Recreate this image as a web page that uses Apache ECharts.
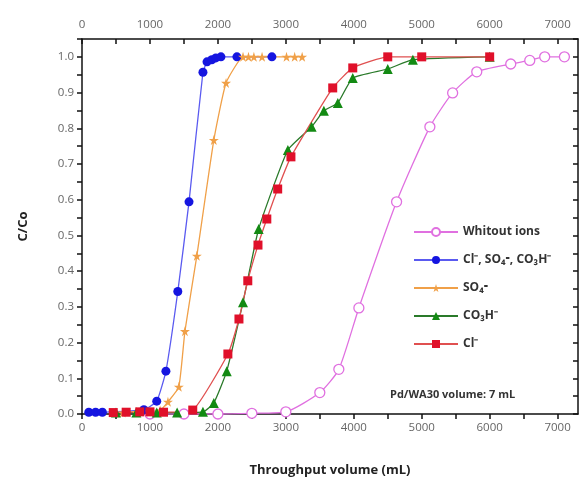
<!DOCTYPE html>
<html>
<head>
<meta charset="utf-8">
<script src="https://cdn.jsdelivr.net/npm/echarts@6/dist/echarts.min.js"></script>
<style>html,body{margin:0;padding:0;background:#fff}#c{width:580px;height:484px}</style>
</head>
<body>
<div id="c"></div>
<script>
// Data: [volume (mL), C/Co]
const withoutIons = [[1000,0],[1500,0],[2000,0],[2500,0.002],[3000,0.006],[3500,0.06],[3780,0.125],[4075,0.297],[4630,0.594],[5120,0.804],[5455,0.899],[5810,0.958],[6310,0.98],[6590,0.99],[6810,1.0],[7100,1.0]];
const allIons = [[100,0.005],[200,0.005],[300,0.005],[910,0.012],[1100,0.036],[1235,0.12],[1410,0.343],[1575,0.594],[1780,0.957],[1840,0.986],[1910,0.992],[1970,0.997],[2045,1.0],[2280,1.0],[2795,1.0]];
const so4 = [[600,0.004],[800,0.005],[1000,0.006],[1150,0.01],[1265,0.034],[1425,0.076],[1515,0.232],[1690,0.443],[1940,0.767],[2120,0.927],[2370,1.0],[2450,1.0],[2530,1.0],[2650,1.0],[3010,1.0],[3130,1.0],[3240,1.0]];
const co3h = [[500,0.004],[800,0.004],[1100,0.004],[1400,0.004],[1780,0.006],[1940,0.031],[2130,0.12],[2370,0.313],[2600,0.518],[3030,0.739],[3380,0.804],[3560,0.849],[3765,0.871],[3985,0.941],[4500,0.966],[4870,0.992],[6000,1.0]];
const cl = [[460,0.004],[650,0.005],[850,0.006],[1000,0.006],[1200,0.005],[1630,0.011],[2147,0.168],[2310,0.266],[2440,0.373],[2590,0.473],[2720,0.546],[2880,0.63],[3075,0.72],[3690,0.913],[3985,0.969],[4500,1.0],[5000,1.0],[6000,1.0]];
const xMaxLabel = 7000;
const yMaxLabel = 1.0;

const chart = echarts.init(document.getElementById('c'));
const FONT = 'Open Sans';
const labelStyle = {color:'#666', fontSize:11.5, fontFamily:FONT};
function xLabel(v){ return (v > xMaxLabel || v % 1000 !== 0) ? '' : String(v); }
function yLabel(v){ const k = Math.round(v*100); return (v > yMaxLabel + 1e-9 || k % 10 !== 0) ? '' : v.toFixed(1); }
function xAxisCfg(pos){
  const top = pos === 'top';
  return {
    type:'value', position:pos, min:0, max:7300, interval:500,
    axisLine:{show:true, onZero:false, lineStyle:{color:'#111', width:1.5}},
    axisTick:{show:true, inside:top, length:5, lineStyle:{color:'#111', width:1.5}},
    axisLabel:Object.assign({margin:8, formatter:xLabel, showMaxLabel:false}, labelStyle),
    splitLine:{show:false}
  };
}
chart.setOption({
  animation:false,
  grid:{left:82, right:2, top:39, bottom:70},
  xAxis:[
    Object.assign(xAxisCfg('bottom'), {name:'Throughput volume (mL)', nameLocation:'middle', nameGap:50,
      nameTextStyle:{fontFamily:FONT, fontWeight:'bold', fontSize:13, color:'#222'}}),
    xAxisCfg('top')
  ],
  yAxis:[
    {type:'value', position:'left', min:0, max:1.05, interval:0.05,
     name:'C/Co', nameLocation:'middle', nameGap:52, nameRotate:90,
     nameTextStyle:{fontFamily:FONT, fontWeight:'bold', fontSize:13, color:'#222'},
     axisLine:{show:true, onZero:false, lineStyle:{color:'#111', width:1.5}},
     axisTick:{show:true, length:5, lineStyle:{color:'#111', width:1.5}},
     axisLabel:Object.assign({margin:8, formatter:yLabel}, labelStyle),
     splitLine:{show:false}},
    {type:'value', position:'right', min:0, max:1.05, interval:0.05,
     axisLine:{show:true, onZero:false, lineStyle:{color:'#111', width:1.5}},
     axisTick:{show:true, inside:true, length:5, lineStyle:{color:'#111', width:1.5}},
     axisLabel:{show:false}, splitLine:{show:false}}
  ],
  legend:{
    orient:'vertical', left:408, top:221, itemWidth:44, itemHeight:10, itemGap:16,
    textStyle:{fontFamily:FONT, fontWeight:'bold', fontSize:12, color:'#333'},
    data:['Whitout ions','Cl⁻, SO₄⁼, CO₃H⁻','SO₄⁼','CO₃H⁻','Cl⁻']
  },
  graphic:[{type:'text', left:390, top:389, style:{text:'Pd/WA30 volume: 7 mL', fontFamily:FONT, fontWeight:'bold', fontSize:11, fill:'#333'}}],
  series:[
    {name:'Whitout ions', type:'line', data:withoutIons, smooth:0.2, symbol:'circle', symbolSize:10,
     itemStyle:{color:'#fff', borderColor:'#e070e0', borderWidth:1.3}, lineStyle:{color:'#e070e0', width:1.3}},
    {name:'Cl⁻, SO₄⁼, CO₃H⁻', type:'line', data:allIons, smooth:0.15, symbol:'circle', symbolSize:9,
     itemStyle:{color:'#1515e0'}, lineStyle:{color:'#5a5af0', width:1.3}},
    {name:'SO₄⁼', type:'line', data:so4, smooth:0.15, symbol:'path://M50,0 L61,35 L98,35 L68,57 L79,91 L50,70 L21,91 L32,57 L2,35 L39,35 Z', symbolSize:10,
     itemStyle:{color:'#f0a048'}, lineStyle:{color:'#f0a048', width:1.3}},
    {name:'CO₃H⁻', type:'line', data:co3h, smooth:0.15, symbol:'triangle', symbolSize:10,
     itemStyle:{color:'#138a13'}, lineStyle:{color:'#2a7a2a', width:1.3}},
    {name:'Cl⁻', type:'line', data:cl, smooth:0.15, symbol:'rect', symbolSize:9,
     itemStyle:{color:'#e0102a'}, lineStyle:{color:'#e05050', width:1.3}}
  ]
});
</script>
</body>
</html>
